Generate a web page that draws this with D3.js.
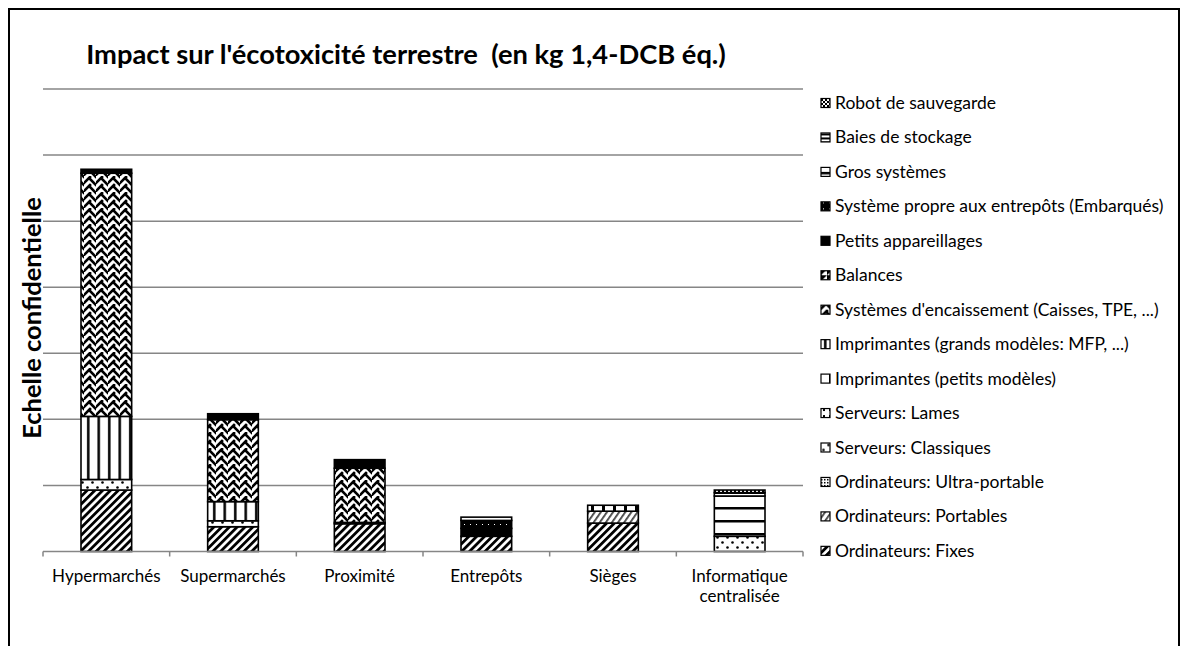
<!DOCTYPE html>
<html>
<head>
<meta charset="utf-8">
<script src="https://cdn.jsdelivr.net/npm/d3@7"></script>
<style>
  body { margin: 0; background: #fff; }
  text { font-family: Lato, "Open Sans", sans-serif; fill: #000; }
</style>
</head>
<body>
<svg id="chart" width="1187" height="646"></svg>
<script>
// Sites compared
const categories = ["Hypermarchés", "Supermarchés", "Proximité", "Entrepôts", "Sièges", "Informatique centralisée"];

// Equipment families, stacked from the bottom up
const seriesNames = [
  "Ordinateurs: Fixes",
  "Ordinateurs: Portables",
  "Ordinateurs: Ultra-portable",
  "Serveurs: Classiques",
  "Serveurs: Lames",
  "Imprimantes (petits modèles)",
  "Imprimantes (grands modèles: MFP, ...)",
  "Systèmes d'encaissement (Caisses, TPE, ...)",
  "Balances",
  "Petits appareillages",
  "Système propre aux entrepôts (Embarqués)",
  "Gros systèmes",
  "Baies de stockage",
  "Robot de sauvegarde"
];

// Values per site (confidential scale, one unit per gridline)
const ordiFixes        = [0.93, 0.375, 0.42, 0.23, 0.43, 0];
const ordiPortables    = [0, 0, 0, 0, 0.18, 0];
const ordiUltra        = [0, 0, 0, 0, 0, 0];
const servClassiques   = [0.16, 0.09, 0.02, 0, 0, 0.23];
const servLames        = [0, 0, 0, 0, 0, 0];
const impPetits        = [0, 0, 0, 0, 0.09, 0];
const impGrands        = [0.955, 0.29, 0, 0, 0, 0];
const encaissement     = [3.68, 1.24, 0.82, 0, 0, 0];
const balances         = [0, 0, 0, 0, 0, 0];
const petitsAppareils  = [0.06, 0.09, 0.13, 0.12, 0, 0];
const systemeEntrepots = [0, 0, 0, 0.12, 0, 0];
const grosSystemes     = [0, 0, 0, 0.05, 0, 0.61];
const baiesStockage    = [0, 0, 0, 0, 0, 0.05];
const robotSauvegarde  = [0, 0, 0, 0, 0, 0.04];

const yTicks = [0, 1, 2, 3, 4, 5, 6, 7];

const chartTitle = "Impact sur l'écotoxicité terrestre  (en kg 1,4-DCB éq.)";
const yTitle = "Echelle confidentielle";

const seriesValues = [ordiFixes, ordiPortables, ordiUltra, servClassiques, servLames, impPetits,
  impGrands, encaissement, balances, petitsAppareils, systemeEntrepots, grosSystemes,
  baiesStockage, robotSauvegarde];

const rows = categories.map((c, i) => {
  const r = { cat: c };
  seriesNames.forEach((s, k) => { r[s] = seriesValues[k][i]; });
  return r;
});

const svg = d3.select("#chart");
const defs = svg.append("defs");

// Monochrome fill patterns, one per series
function pattern(id, w, h, draw, transform) {
  const p = defs.append("pattern")
    .attr("id", id)
    .attr("patternUnits", "userSpaceOnUse")
    .attr("width", w).attr("height", h);
  if (transform) p.attr("patternTransform", transform);
  p.append("rect").attr("width", w).attr("height", h).attr("fill", "#fff");
  draw(p);
}
const patternDraw = [
  // Fixes: wide diagonal stripes
  () => pattern("p0", 5.5, 5.5, q => q.append("rect").attr("width", 2.8).attr("height", 5.5).attr("fill", "#000"), "rotate(45)"),
  // Portables: lighter diagonal
  () => pattern("p1", 5, 5, q => q.append("rect").attr("width", 1.8).attr("height", 5).attr("fill", "#444"), "rotate(35)"),
  // Ultra-portable: dense dots
  () => pattern("p2", 3, 3, q => q.append("rect").attr("width", 1.5).attr("height", 1.5).attr("fill", "#000")),
  // Serveurs classiques: sparse dots
  () => pattern("p3", 10, 10, q => {
    q.append("circle").attr("cx", 2.5).attr("cy", 2.5).attr("r", 1.3).attr("fill", "#000");
    q.append("circle").attr("cx", 7.5).attr("cy", 7.5).attr("r", 1.3).attr("fill", "#000");
  }),
  // Serveurs lames: small centred dot grid
  () => pattern("p4", 6, 6, q => q.append("rect").attr("x", 2).attr("y", 2).attr("width", 2).attr("height", 2).attr("fill", "#000")),
  // Imprimantes petits: brick
  () => pattern("p5", 11, 6, q => {
    q.append("rect").attr("x", 8).attr("width", 3).attr("height", 6).attr("fill", "#000");
  }),
  // Imprimantes grands: vertical stripes
  () => pattern("p6", 10.5, 10, q => q.append("rect").attr("x", 3).attr("width", 2.5).attr("height", 10).attr("fill", "#000")),
  // Encaissement: herringbone weave
  () => pattern("p7", 12, 16, q => {
    q.append("path")
      .attr("d", "M0,7 L6,1 M6,3 L12,9 M0,15 L6,9 M6,11 L12,17 M6,-5 L12,1 M-1,-1 L0,-2")
      .attr("fill", "none").attr("stroke", "#000").attr("stroke-width", 2.6)
      .attr("stroke-linecap", "square");
  }),
  // Balances: diagonal half
  () => pattern("p8", 6, 6, q => q.append("path").attr("d", "M0,0 L6,0 L0,6 Z").attr("fill", "#000")),
  // Petits appareillages: solid
  () => pattern("p9", 4, 4, q => q.append("rect").attr("width", 4).attr("height", 4).attr("fill", "#000")),
  // Système propre aux entrepôts: dark with light specks
  () => pattern("p10", 6, 6, q => {
    q.append("rect").attr("width", 6).attr("height", 6).attr("fill", "#000");
    q.append("rect").attr("x", 2).attr("y", 2).attr("width", 1).attr("height", 1).attr("fill", "#fff");
  }),
  // Gros systèmes: wide horizontal lines
  () => pattern("p11", 10, 13, q => q.append("rect").attr("y", 0).attr("width", 10).attr("height", 2.5).attr("fill", "#000")),
  // Baies de stockage: dark horizontal
  () => pattern("p12", 10, 4, q => q.append("rect").attr("width", 10).attr("height", 2).attr("fill", "#000")),
  // Robot de sauvegarde: cross-hatch
  () => pattern("p13", 4, 4, q => {
    q.append("rect").attr("width", 2).attr("height", 2).attr("fill", "#000");
    q.append("rect").attr("x", 2).attr("y", 2).attr("width", 2).attr("height", 2).attr("fill", "#000");
  })
];
patternDraw.forEach(f => f());
const fillOf = k => `url(#p${k})`;

// Frame around the whole chart
svg.append("rect")
  .attr("x", 9).attr("y", 9).attr("width", 1170).attr("height", 700)
  .attr("fill", "none").attr("stroke", "#000").attr("stroke-width", 2);

const plot = { left: 43, right: 803, top: 89, bottom: 551.5 };

const x = d3.scaleBand()
  .domain(categories)
  .range([plot.left, plot.right])
  .paddingInner(0.6)
  .paddingOuter(0.3);

const y = d3.scaleLinear()
  .domain([0, 7])
  .range([plot.bottom, plot.top]);

// Horizontal gridlines
svg.append("g")
  .selectAll("line")
  .data(yTicks.slice(1))
  .join("line")
  .attr("x1", plot.left).attr("x2", plot.right)
  .attr("y1", d => y(d)).attr("y2", d => y(d))
  .attr("stroke", "#868686").attr("stroke-width", 1.5);

// Stacked bars
const stack = d3.stack().keys(seriesNames);
const layers = stack(rows);

svg.append("g")
  .selectAll("g")
  .data(layers)
  .join("g")
  .attr("fill", (d, k) => fillOf(k))
  .selectAll("rect")
  .data(d => d.filter(s => s[1] - s[0] > 0))
  .join("rect")
  .attr("x", d => x(d.data.cat))
  .attr("width", x.bandwidth())
  .attr("y", d => y(d[1]))
  .attr("height", d => y(d[0]) - y(d[1]))
  .attr("stroke", "#000")
  .attr("stroke-width", 1.6);

// Category axis
const xAxis = svg.append("g");
xAxis.append("line")
  .attr("x1", plot.left).attr("x2", plot.right)
  .attr("y1", plot.bottom).attr("y2", plot.bottom)
  .attr("stroke", "#868686").attr("stroke-width", 1.5);
const step = x.step();
const boundaries = d3.range(categories.length + 1).map(i => plot.left + i * step);
xAxis.selectAll("line.tick")
  .data(boundaries)
  .join("line")
  .attr("class", "tick")
  .attr("x1", d => d).attr("x2", d => d)
  .attr("y1", plot.bottom).attr("y2", plot.bottom + 5)
  .attr("stroke", "#868686").attr("stroke-width", 1.5);

xAxis.selectAll("text")
  .data(categories)
  .join("text")
  .attr("x", d => x(d) + x.bandwidth() / 2)
  .attr("y", 582)
  .attr("text-anchor", "middle")
  .style("font-size", "17px")
  .each(function (d) {
    const words = d.split(" ");
    const t = d3.select(this);
    if (words.length > 1) {
      words.forEach((w, i) => t.append("tspan")
        .attr("x", x(d) + x.bandwidth() / 2)
        .attr("dy", i === 0 ? 0 : 19.5)
        .text(w));
    } else {
      t.text(d);
    }
  });

// Titles
svg.append("text")
  .attr("x", 406).attr("y", 64)
  .attr("text-anchor", "middle")
  .style("font-size", "27.3px").style("font-weight", "bold")
  .style("white-space", "pre")
  .text(chartTitle);

svg.append("text")
  .attr("transform", "translate(41,318) rotate(-90)")
  .attr("text-anchor", "middle")
  .style("font-size", "25.5px").style("font-weight", "bold")
  .text(yTitle);

// Legend, top series first
const legend = svg.append("g");
const legendItems = seriesNames.map((s, k) => ({ s, k })).reverse();
const item = legend.selectAll("g")
  .data(legendItems)
  .join("g")
  .attr("transform", (d, i) => `translate(821,${103 + i * 34.45})`);
item.append("rect")
  .attr("x", 0).attr("y", -4.5)
  .attr("width", 9).attr("height", 9)
  .attr("fill", d => fillOf(d.k))
  .attr("stroke", "#000").attr("stroke-width", 1.2);
item.append("text")
  .attr("x", 14).attr("y", 6)
  .style("font-size", "17.5px")
  .text(d => d.s);
</script>
</body>
</html>
